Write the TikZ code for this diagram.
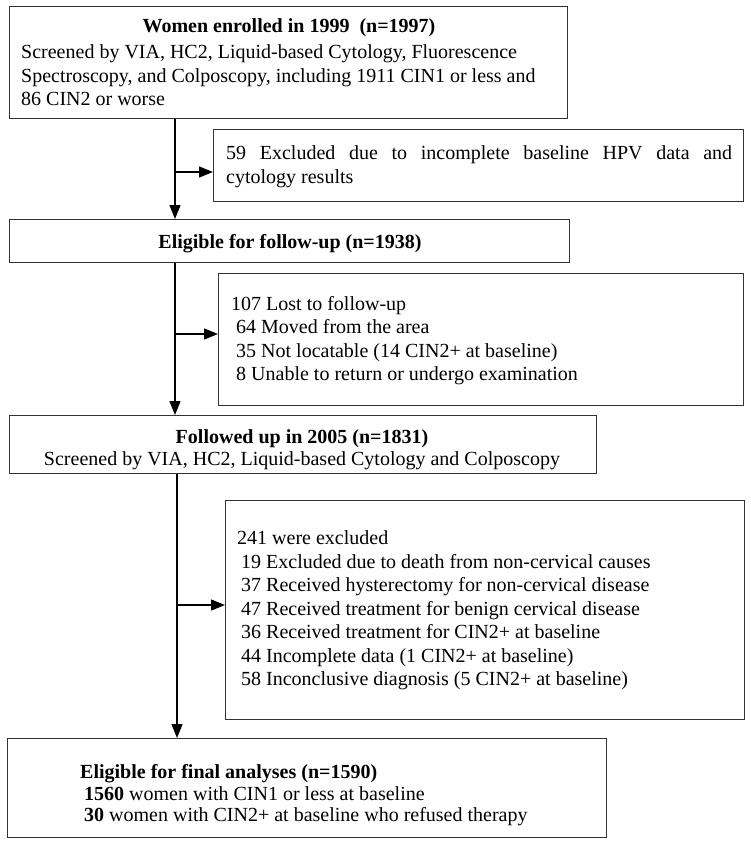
\documentclass[tikz,border=0pt]{standalone}
\usepackage{fontspec}
\setmainfont{Liberation Serif}
\usetikzlibrary{arrows.meta}
\begin{document}
\begin{tikzpicture}[x=1pt,y=-1pt,
  box/.style={draw=black!80, line width=1.1pt, anchor=north west, inner sep=0pt},
  txt/.style={anchor=base west, inner sep=0pt, font=\fontsize{20}{23}\selectfont},
  ctxt/.style={anchor=base, inner sep=0pt, font=\fontsize{20}{23}\selectfont},
  arr/.style={draw=black, line width=1.3pt, -{Triangle[length=14pt,width=11pt]}},
  lin/.style={draw=black, line width=1.3pt}]
\useasboundingbox[fill=white] (0,0) rectangle (751,845);

% boxes
\node[box, minimum width=558pt, minimum height=112pt] (b1) at (9,6) {};
\node[box, minimum width=530pt, minimum height=72pt] (b2) at (213,129) {};
\node[box, minimum width=560pt, minimum height=43pt] (b3) at (9,219) {};
\node[box, minimum width=525pt, minimum height=132pt] (b4) at (218,273) {};
\node[box, minimum width=587pt, minimum height=58pt] (b5) at (9,415) {};
\node[box, minimum width=519pt, minimum height=219pt] (b6) at (225,500) {};
\node[box, minimum width=599pt, minimum height=99pt] (b7) at (7,738) {};

% box 1 text
\node[ctxt] (t1a) at (289,33) {\textbf{Women enrolled in 1999\ \ (n=1997)}};
\node[txt] (t1b) at (21,59) {Screened by VIA, HC2, Liquid-based Cytology, Fluorescence};
\node[txt] (t1c) at (21,82.5) {Spectroscopy, and Colposcopy, including 1911 CIN1 or less and};
\node[txt] (t1d) at (21,106) {86 CIN2 or worse};

% box 2 text
\node[txt] (t2a) at (226,160) {\makebox[506pt][s]{59 Excluded due to incomplete baseline HPV data and}};
\node[txt] (t2b) at (226,183) {cytology results};

% box 3 text
\node[ctxt] (t3a) at (290,248) {\textbf{Eligible for follow-up (n=1938)}};

% box 4 text
\node[txt] (t4a) at (231,310) {107 Lost to follow-up};
\node[txt] (t4b) at (236,333.5) {64 Moved from the area};
\node[txt] (t4c) at (236,357) {35 Not locatable (14 CIN2+ at baseline)};
\node[txt] (t4d) at (236,380.5) {8 Unable to return or undergo examination};

% box 5 text
\node[ctxt] (t5a) at (302,443) {\textbf{Followed up in 2005 (n=1831)}};
\node[ctxt] (t5b) at (302,465) {Screened by VIA, HC2, Liquid-based Cytology and Colposcopy};

% box 6 text
\node[txt] (t6a) at (237,544) {241 were excluded};
\node[txt] (t6b) at (241,568) {19 Excluded due to death from non-cervical causes};
\node[txt] (t6c) at (241,591.5) {37 Received hysterectomy for non-cervical disease};
\node[txt] (t6d) at (241,615) {47 Received treatment for benign cervical disease};
\node[txt] (t6e) at (241,638.5) {36 Received treatment for CIN2+ at baseline};
\node[txt] (t6f) at (241,662) {44 Incomplete data (1 CIN2+ at baseline)};
\node[txt] (t6g) at (241,685.5) {58 Inconclusive diagnosis (5 CIN2+ at baseline)};

% box 7 text
\node[txt] (t7a) at (80,778) {\textbf{Eligible for final analyses (n=1590)}};
\node[txt] (t7b) at (84,800) {\textbf{1560} women with CIN1 or less at baseline};
\node[txt] (t7c) at (84,821) {\textbf{30} women with CIN2+ at baseline who refused therapy};

% connectors
\coordinate (v1) at (175,0);
\coordinate (v2) at (177,0);
\draw[arr] (b1.south -| v1) -- (b3.north -| v1);
\draw[arr] (b3.south -| v1) -- (b5.north -| v1);
\draw[arr] (b5.south -| v2) -- (b7.north -| v2);
\coordinate (a2) at (175,172);
\coordinate (a4) at (175,334);
\coordinate (a6) at (177,605);
\draw[arr] (a2) -- (a2 -| b2.west);
\draw[arr] (a4) -- (a4 -| b4.west);
\draw[arr] (a6) -- (a6 -| b6.west);
\end{tikzpicture}
\end{document}
